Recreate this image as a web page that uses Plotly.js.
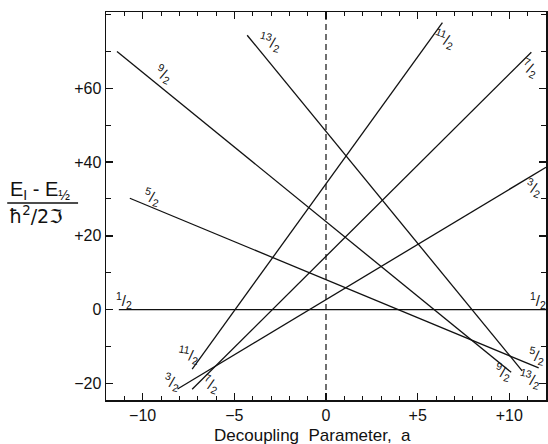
<!DOCTYPE html>
<html>
<head>
<meta charset="utf-8">
<script src="https://cdn.plot.ly/plotly-3.0.1.min.js"></script>
<style>
  html, body { margin: 0; padding: 0; background: #fff; }
  #chart { width: 548px; height: 444px; }
</style>
</head>
<body>
<div id="chart"></div>
<script>
// Rotational levels of a K = 1/2 band versus the decoupling parameter a.
// Each level is a straight line; end points in (a, energy) units.
const spins  = ['1/2', '3/2', '5/2', '7/2', '9/2', '11/2', '13/2'];
const aStart = [-11.3, -8.1, -10.7, -7.3, -11.4, -7.3, -4.3];
const aEnd   = [12.0, 12.0, 11.6, 11.2, 10.1, 6.35, 10.7];
const eStart = [0, -21.5, 30.2, -21.6, 70.0, -16.1, 74.4];
const eEnd   = [0, 38.6, -15.8, 69.8, -17.0, 77.8, -16.6];

// Axis ticks
const xTickVals = [-10, -5, 0, 5, 10];
const xTickText = ['\u221210', '\u22125', '0', '+5', '+10'];
const yTickVals = [-20, 0, 20, 40, 60];
const yTickText = ['\u221220', '0', '+20', '+40', '+60'];

// Where each spin label sits, near the ends of its line
const labelSpots = [
  // [spin index, a, energy, angle]
  [0, -11.0, 2.6, 0], [0, 11.55, 2.4, 0],
  [1, -8.4, -19.6, 15], [1, 11.35, 33.2, 20],
  [2, -9.5, 30.6, 15], [2, 11.5, -12.3, 10],
  [3, -6.3, -20.1, 20], [3, 11.1, 65.6, 25],
  [4, -8.85, 64.0, 25], [4, 9.65, -16.9, 15],
  [5, -7.5, -12.2, 10], [5, 6.45, 73.6, 20],
  [6, -3.05, 72.6, 15], [6, 11.1, -18.6, 15]
];

function frac(s) {
  const p = s.split('/');
  return '<sup>' + p[0] + '</sup>/<sub>' + p[1] + '</sub>';
}

const traces = spins.map((s, i) => ({
  type: 'scatter',
  mode: 'lines',
  name: s,
  x: [aStart[i], aEnd[i]],
  y: [eStart[i], eEnd[i]],
  line: { color: '#111', width: 1.3 },
  hoverinfo: 'skip',
  showlegend: false
}));

const annotations = labelSpots.map(([i, a, e, ang]) => ({
  x: a, y: e, xref: 'x', yref: 'y',
  text: frac(spins[i]),
  showarrow: false,
  textangle: ang,
  font: { family: 'Liberation Sans, Arial, sans-serif', size: 15, color: '#111' }
}));

// x axis title
annotations.push({
  xref: 'paper', yref: 'paper', x: 0.469, y: -0.0905,
  xanchor: 'center', yanchor: 'middle',
  text: 'Decoupling  Parameter,  a',
  showarrow: false,
  font: { family: 'Liberation Sans, Arial, sans-serif', size: 17, color: '#111' }
});
// y axis title, written as a fraction
annotations.push({
  xref: 'paper', yref: 'paper', x: -0.222, y: 0.5387,
  xanchor: 'left', yanchor: 'middle',
  text: 'E<sub>I</sub> - E<sub>\u00bd</sub>',
  showarrow: false,
  font: { family: 'Liberation Sans, Arial, sans-serif', size: 20, color: '#111' }
});
annotations.push({
  xref: 'paper', yref: 'paper', x: -0.2245, y: 0.4768,
  xanchor: 'left', yanchor: 'middle',
  text: '\u0127<sup>2</sup>/2\u2111',
  showarrow: false,
  font: { family: 'DejaVu Sans, sans-serif', size: 19, color: '#111' }
});

const axisFont = { family: 'Liberation Sans, Arial, sans-serif', size: 16, color: '#111' };

const layout = {
  width: 548, height: 444,
  margin: { l: 106, r: 2, t: 12, b: 44 },
  paper_bgcolor: '#fff', plot_bgcolor: '#fff',
  showlegend: false,
  xaxis: {
    range: [-12, 12],
    tickmode: 'array', tickvals: xTickVals, ticktext: xTickText,
    ticks: 'inside', ticklen: 7, tickwidth: 1.3, tickcolor: '#111',
    minor: { tickmode: 'linear', tick0: 0, dtick: 1, ticks: 'inside', ticklen: 4, tickwidth: 1, tickcolor: '#111' },
    showline: true, linewidth: 1.5, linecolor: '#111', mirror: 'allticks',
    showgrid: false, zeroline: false,
    tickfont: axisFont
  },
  yaxis: {
    range: [-24.5, 80.7],
    tickmode: 'array', tickvals: yTickVals, ticktext: yTickText,
    ticks: 'inside', ticklen: 7, tickwidth: 1.3, tickcolor: '#111',
    minor: { tickmode: 'linear', tick0: 0, dtick: 10, ticks: 'inside', ticklen: 5, tickwidth: 1, tickcolor: '#111' },
    showline: true, linewidth: 1.5, linecolor: '#111', mirror: 'allticks',
    showgrid: false, zeroline: false,
    tickfont: axisFont
  },
  shapes: [
    // a = 0 reference
    { type: 'line', xref: 'x', yref: 'paper', x0: 0, x1: 0, y0: 0, y1: 1,
      line: { color: '#111', width: 1.2, dash: '6px,4px' } },
    // fraction bar of the y title
    { type: 'line', xref: 'paper', yref: 'paper', x0: -0.2245, x1: -0.0635, y0: 0.5077, y1: 0.5077,
      line: { color: '#111', width: 1.5 } }
  ],
  annotations: annotations
};

Plotly.newPlot('chart', traces, layout, { staticPlot: true, displayModeBar: false });
</script>
</body>
</html>
